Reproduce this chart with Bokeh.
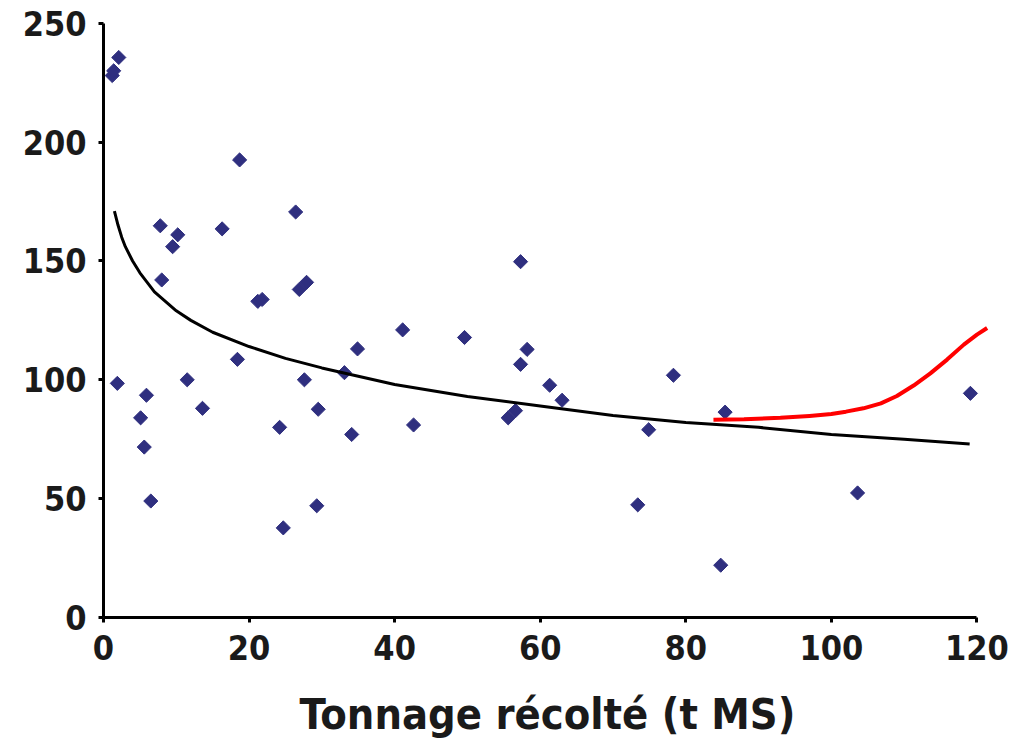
import math
from bokeh.plotting import figure
from bokeh.models import Range1d, FixedTicker
from bokeh.embed import file_html
from bokeh.resources import INLINE

# Scatter data (t MS harvested vs value)
tonnage = [1.2, 1.4, 2.1, 1.9, 5.1, 5.6, 5.9, 6.5, 7.8, 8.0, 9.5, 10.2, 11.5, 13.6,
           16.3, 18.4, 18.7, 21.2, 21.8, 24.2, 24.7, 26.4, 26.9, 27.9, 27.6, 29.3,
           29.5, 33.1, 34.1, 34.9, 41.1, 42.6, 49.6, 55.6, 56.6, 57.3, 57.3, 58.2,
           61.3, 63.0, 73.4, 74.9, 78.3, 84.8, 85.4, 103.6, 119.1]
valeur = [228, 230, 235.6, 98.5, 84, 71.7, 93.5, 49, 164.8, 142, 156, 161, 100, 88,
          163.5, 108.6, 192.5, 133, 133.8, 80, 37.7, 170.6, 138, 141, 100, 47,
          87.6, 103, 77, 113, 121, 81, 117.8, 84, 87, 149.7, 106.5, 112.8,
          97.7, 91.4, 47.4, 79, 101.9, 22, 86.4, 52.4, 94.3]

# Black trend curve
trend_x = [1.5, 2, 2.5, 3, 4, 5, 6, 7, 8.5, 10, 12, 15, 20, 25, 30, 40, 50, 60, 70, 80, 90, 100, 110, 119]
trend_y = [171, 165, 160, 156, 150, 145, 141, 137, 133, 129, 125, 120, 114, 109, 105, 98, 93, 89, 85, 82, 80, 77, 75, 73]

# Red curve
red_x = [83.8, 88, 93, 97, 100, 102, 104.4, 106.8, 109.0, 111.3, 113.6, 115.9, 118.2, 120, 121.4]
red_y = [83.2, 83.4, 84, 84.8, 85.6, 86.6, 88, 90.1, 93.2, 97.6, 102.7, 108.5, 114.8, 119, 121.8]

x_ticks = [0, 20, 40, 60, 80, 100, 120]
y_ticks = [0, 50, 100, 150, 200, 250]

p = figure(width=1022, height=741, output_backend="svg", toolbar_location=None,
           x_range=Range1d(0, 122), y_range=Range1d(0, 252),
           min_border_left=103, min_border_right=31, min_border_top=18, min_border_bottom=122)
p.outline_line_color = None
p.xgrid.visible = False
p.ygrid.visible = False
p.background_fill_color = "white"
p.border_fill_color = "white"

FONT = "DejaVu Sans Condensed"
for ax in (p.xaxis[0], p.yaxis[0]):
    ax.axis_line_color = "black"
    ax.axis_line_width = 3
    ax.major_tick_line_color = "black"
    ax.major_tick_line_width = 3
    ax.major_tick_in = 0
    ax.major_tick_out = 5
    ax.minor_tick_line_color = None
    ax.major_label_text_font = FONT
    ax.major_label_text_font_style = "bold"
    ax.major_label_text_font_size = "34px"
    ax.major_label_text_color = "#1a1a1a"

p.xaxis.ticker = FixedTicker(ticks=x_ticks)
p.yaxis.ticker = FixedTicker(ticks=y_ticks)
p.xaxis.bounds = (0, 120)
p.yaxis.bounds = (0, 250)
p.xaxis.major_label_standoff = 12
p.yaxis.major_label_standoff = 12
p.xaxis.axis_label = "Tonnage récolté (t MS)"
p.xaxis.axis_label_text_font = FONT
p.xaxis.axis_label_text_font_style = "bold"
p.xaxis.axis_label_text_font_size = "43px"
p.xaxis.axis_label_text_color = "#1a1a1a"
p.xaxis.axis_label_standoff = 26

p.scatter(tonnage, valeur, marker="square", angle=math.pi / 4, size=10,
          fill_color="#2F2F7F", line_color="#2F2F7F")
p.line(trend_x, trend_y, line_color="black", line_width=3)
p.line(red_x, red_y, line_color="#FF0000", line_width=4, line_join="round")

open("out.html", "w").write(file_html(p, INLINE))
